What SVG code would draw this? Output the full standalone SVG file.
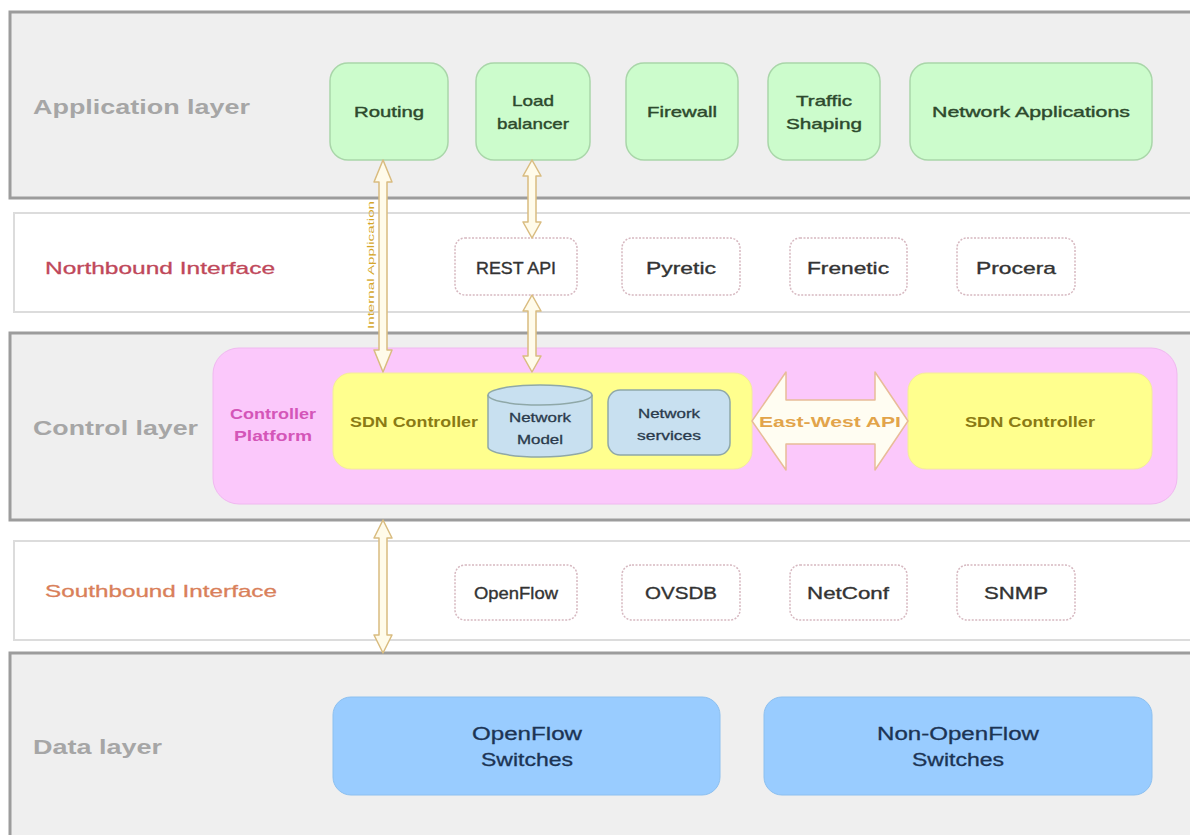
<svg xmlns="http://www.w3.org/2000/svg" width="1190" height="835" viewBox="0 0 1190 835">
<style>
text{font-family:"Liberation Sans",Arial,sans-serif}
.band{fill:#efefef;stroke:#9c9c9c;stroke-width:3}
.iband{fill:#ffffff;stroke:#dcdcdc;stroke-width:2}
.layer{font-size:21px;font-weight:bold;fill:#a6a6a6}
.app{fill:#ccfccc;stroke:#a9d6a9;stroke-width:1.5}
.apptxt{font-size:15px;fill:#2d4a2d;stroke:#2d4a2d;stroke-width:0.4;text-anchor:middle}
.ifc{fill:#ffffff;stroke:#d6b8c0;stroke-width:1.5;stroke-dasharray:2 1.5}
.ifctxt{font-size:17px;fill:#333333;stroke:#333333;stroke-width:0.35;text-anchor:middle}
.sdn{fill:#ffff8e;stroke:#f4ec9a;stroke-width:1}
.sdntxt{font-size:14px;font-weight:bold;fill:#8a7a14;text-anchor:middle}
.svc{fill:#c8e0f0;stroke:#8fa8a8;stroke-width:1.5}
.svctxt{font-size:13px;fill:#2a3a4c;stroke:#2a3a4c;stroke-width:0.3;text-anchor:middle}
.sw{fill:#99ccff;stroke:#8cc0f0;stroke-width:1}
.swtxt{font-size:18px;fill:#1c3454;stroke:#1c3454;stroke-width:0.3;text-anchor:middle}
.arrow{fill:#fffbea;stroke:#d9bc80;stroke-width:1.5;stroke-linejoin:round}
</style>

<g id="application-layer">
  <rect class="band" x="10" y="12" width="1190" height="186"/>
  <text class="layer" x="33" y="114" textLength="217" lengthAdjust="spacingAndGlyphs">Application layer</text>
</g>
<g id="northbound-interface">
  <rect class="iband" x="14" y="213" width="1190" height="99"/>
  <text x="45" y="274" font-size="17" fill="#c0485a" stroke="#c0485a" stroke-width="0.3" textLength="230" lengthAdjust="spacingAndGlyphs">Northbound Interface</text>
</g>
<g id="control-layer">
  <rect class="band" x="10" y="333" width="1190" height="187"/>
  <text class="layer" x="33" y="435" textLength="165" lengthAdjust="spacingAndGlyphs">Control layer</text>
</g>
<g id="southbound-interface">
  <rect class="iband" x="14" y="541" width="1190" height="99"/>
  <text x="45" y="597" font-size="17" fill="#d9805a" stroke="#d9805a" stroke-width="0.3" textLength="232" lengthAdjust="spacingAndGlyphs">Southbound Interface</text>
</g>
<g id="data-layer">
  <rect class="band" x="10" y="653" width="1190" height="200"/>
  <text class="layer" x="33" y="754" textLength="129" lengthAdjust="spacingAndGlyphs">Data layer</text>
</g>

<g id="routing">
  <rect class="app" x="330" y="63" width="118" height="97" rx="18"/>
  <text class="apptxt" x="389" y="117" textLength="70" lengthAdjust="spacingAndGlyphs">Routing</text>
</g>
<g id="load-balancer">
  <rect class="app" x="476" y="63" width="114" height="97" rx="18"/>
  <text class="apptxt" x="533" y="106" textLength="42" lengthAdjust="spacingAndGlyphs">Load</text>
  <text class="apptxt" x="533" y="129" textLength="72" lengthAdjust="spacingAndGlyphs">balancer</text>
</g>
<g id="firewall">
  <rect class="app" x="626" y="63" width="112" height="97" rx="18"/>
  <text class="apptxt" x="682" y="117" textLength="70" lengthAdjust="spacingAndGlyphs">Firewall</text>
</g>
<g id="traffic-shaping">
  <rect class="app" x="768" y="63" width="112" height="97" rx="18"/>
  <text class="apptxt" x="824" y="106" textLength="56" lengthAdjust="spacingAndGlyphs">Traffic</text>
  <text class="apptxt" x="824" y="129" textLength="76" lengthAdjust="spacingAndGlyphs">Shaping</text>
</g>
<g id="network-applications">
  <rect class="app" x="910" y="63" width="242" height="97" rx="18"/>
  <text class="apptxt" x="1031" y="117" textLength="198" lengthAdjust="spacingAndGlyphs">Network Applications</text>
</g>

<g id="rest-api">
  <rect class="ifc" x="455" y="238" width="122" height="57" rx="10"/>
  <text class="ifctxt" x="516" y="274" textLength="80" lengthAdjust="spacingAndGlyphs">REST API</text>
</g>
<g id="pyretic">
  <rect class="ifc" x="622" y="238" width="118" height="57" rx="10"/>
  <text class="ifctxt" x="681" y="274" textLength="70" lengthAdjust="spacingAndGlyphs">Pyretic</text>
</g>
<g id="frenetic">
  <rect class="ifc" x="790" y="238" width="117" height="57" rx="10"/>
  <text class="ifctxt" x="848" y="274" textLength="82" lengthAdjust="spacingAndGlyphs">Frenetic</text>
</g>
<g id="procera">
  <rect class="ifc" x="957" y="238" width="118" height="57" rx="10"/>
  <text class="ifctxt" x="1016" y="274" textLength="80" lengthAdjust="spacingAndGlyphs">Procera</text>
</g>

<g id="controller-platform">
  <rect x="213" y="348" width="964" height="156" rx="26" fill="#fbc8fb" stroke="#f0b8f0" stroke-width="1"/>
  <text x="273" y="419" font-size="14" font-weight="bold" fill="#d455b8" text-anchor="middle" textLength="86" lengthAdjust="spacingAndGlyphs">Controller</text>
  <text x="273" y="441" font-size="14" font-weight="bold" fill="#d455b8" text-anchor="middle" textLength="78" lengthAdjust="spacingAndGlyphs">Platform</text>
</g>
<g id="sdn-controller-1">
  <rect class="sdn" x="333" y="373" width="419" height="96" rx="18"/>
  <text class="sdntxt" x="414" y="427" textLength="128" lengthAdjust="spacingAndGlyphs">SDN Controller</text>
</g>
<g id="network-model">
  <path class="svc" d="M488,395 L488,447 A52,10 0 0 0 592,447 L592,395 A52,10 0 0 0 488,395 Z"/>
  <path d="M488,395 A52,10 0 0 0 592,395" fill="none" stroke="#8fa8a8" stroke-width="1.5"/>
  <text class="svctxt" x="540" y="422" textLength="62" lengthAdjust="spacingAndGlyphs">Network</text>
  <text class="svctxt" x="540" y="444" textLength="46" lengthAdjust="spacingAndGlyphs">Model</text>
</g>
<g id="network-services">
  <rect class="svc" x="608" y="390" width="122" height="65" rx="12"/>
  <text class="svctxt" x="669" y="418" textLength="62" lengthAdjust="spacingAndGlyphs">Network</text>
  <text class="svctxt" x="669" y="440" textLength="64" lengthAdjust="spacingAndGlyphs">services</text>
</g>
<g id="sdn-controller-2">
  <rect class="sdn" x="908" y="373" width="244" height="96" rx="18"/>
  <text class="sdntxt" x="1030" y="427" textLength="130" lengthAdjust="spacingAndGlyphs">SDN Controller</text>
</g>

<g id="openflow">
  <rect class="ifc" x="455" y="565" width="122" height="55" rx="10"/>
  <text class="ifctxt" x="516" y="599" textLength="84" lengthAdjust="spacingAndGlyphs">OpenFlow</text>
</g>
<g id="ovsdb">
  <rect class="ifc" x="622" y="565" width="118" height="55" rx="10"/>
  <text class="ifctxt" x="681" y="599" textLength="72" lengthAdjust="spacingAndGlyphs">OVSDB</text>
</g>
<g id="netconf">
  <rect class="ifc" x="790" y="565" width="117" height="55" rx="10"/>
  <text class="ifctxt" x="848" y="599" textLength="82" lengthAdjust="spacingAndGlyphs">NetConf</text>
</g>
<g id="snmp">
  <rect class="ifc" x="957" y="565" width="118" height="55" rx="10"/>
  <text class="ifctxt" x="1016" y="599" textLength="64" lengthAdjust="spacingAndGlyphs">SNMP</text>
</g>

<g id="openflow-switches">
  <rect class="sw" x="333" y="697" width="387" height="98" rx="18"/>
  <text class="swtxt" x="527" y="740" textLength="110" lengthAdjust="spacingAndGlyphs">OpenFlow</text>
  <text class="swtxt" x="527" y="766" textLength="92" lengthAdjust="spacingAndGlyphs">Switches</text>
</g>
<g id="non-openflow-switches">
  <rect class="sw" x="764" y="697" width="388" height="98" rx="18"/>
  <text class="swtxt" x="958" y="740" textLength="162" lengthAdjust="spacingAndGlyphs">Non-OpenFlow</text>
  <text class="swtxt" x="958" y="766" textLength="92" lengthAdjust="spacingAndGlyphs">Switches</text>
</g>

<g id="connectors">
  <path class="arrow" d="M383,160 L392,182 L387,182 L387,350 L392,350 L383,372 L374,350 L379,350 L379,182 L374,182 Z"/>
  <text x="0" y="0" font-size="9" fill="#d4a62a" text-anchor="middle" transform="translate(374,265) rotate(-90)" textLength="128" lengthAdjust="spacingAndGlyphs">Internal Application</text>
  <path class="arrow" d="M532,160 L541,176 L536,176 L536,222 L541,222 L532,238 L523,222 L528,222 L528,176 L523,176 Z"/>
  <path class="arrow" d="M532,295 L541,311 L536,311 L536,356 L541,356 L532,372 L523,356 L528,356 L528,311 L523,311 Z"/>
  <path class="arrow" d="M383,520 L392,538 L387,538 L387,635 L392,635 L383,653 L374,635 L379,635 L379,538 L374,538 Z"/>
  <path d="M752,421 L786,372 L786,400 L875,400 L875,372 L908,421 L875,470 L875,444 L786,444 L786,470 Z" fill="#fffdf2" stroke="#e8bc98" stroke-width="1.5" stroke-linejoin="round"/>
  <text x="830" y="427" font-size="15" font-weight="bold" fill="#e2a44a" text-anchor="middle" textLength="142" lengthAdjust="spacingAndGlyphs">East-West API</text>
</g>
</svg>
